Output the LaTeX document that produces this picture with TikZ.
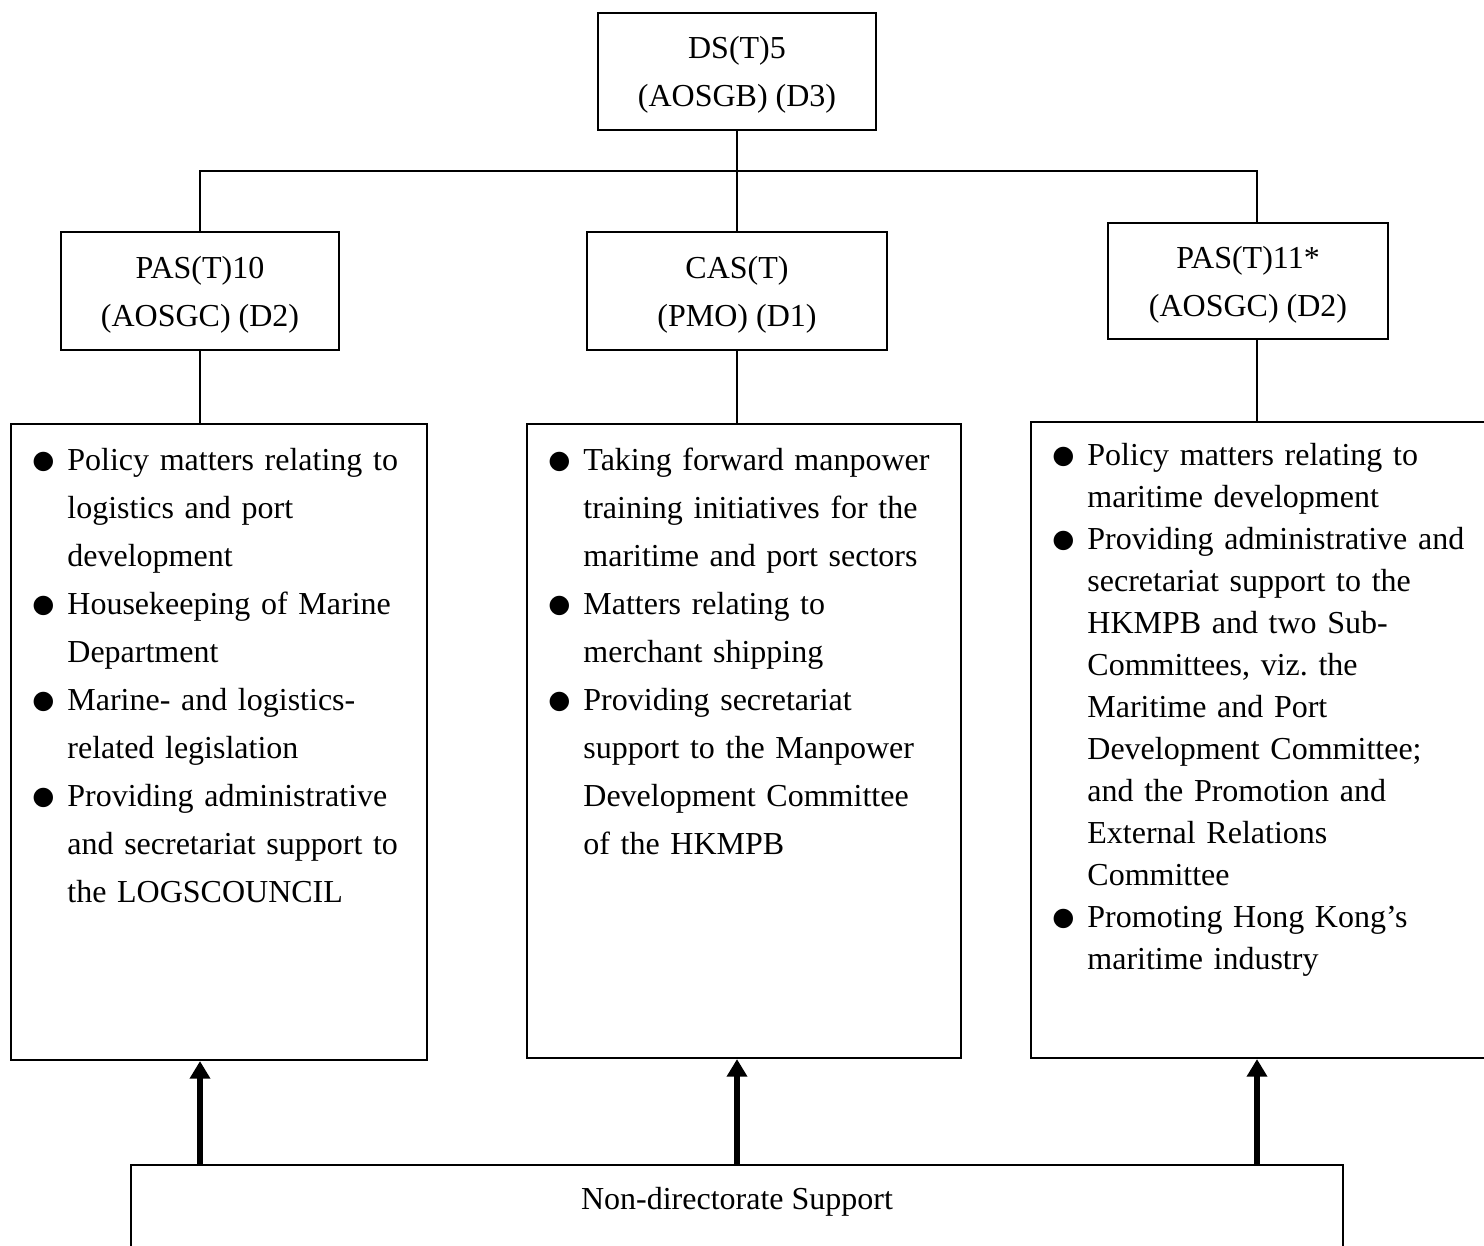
\documentclass[tikz,border=0pt]{standalone}
\usepackage{fontspec}
\setmainfont{Liberation Serif}
\newfontfamily\dotfont{DejaVu Sans}
\usepackage{enumitem}
\usetikzlibrary{arrows.meta,calc}
\setlist[itemize]{label={\raisebox{0.6pt}{\fontsize{9.5}{9.5}\dotfont ●}}, nosep,
  labelindent=0pt, labelwidth=9pt, labelsep=4.1pt, leftmargin=13.1pt, align=left,
  before=\raggedright}

\begin{document}
\begin{tikzpicture}[x=0.375pt, y=-0.375pt,
    font=\fontsize{12}{18}\selectfont,
    post/.style={draw, line width=0.8pt, align=center, inner sep=0pt, text depth=-4pt},
    duties/.style={draw, line width=0.8pt, inner sep=0pt},
    dutytext/.style={inner sep=0pt, text width=175pt, anchor=north west},
    link/.style={line width=0.6pt},
    feed/.style={line width=2.4pt, -{Triangle[length=6.6pt,width=7.4pt]}},
]
\useasboundingbox (0,0) rectangle (1484,1246);

\coordinate (colA) at (200,0);
\coordinate (colB) at (737,0);
\coordinate (colC) at (1257,0);

\node[post, minimum width=104.25pt, minimum height=43.9pt] (ds5) at (737,71.5) {DS(T)5\\(AOSGB) (D3)};
\node[post, minimum width=104.25pt, minimum height=44.25pt] (pas10) at (200,291) {PAS(T)10\\(AOSGC) (D2)};
\node[post, minimum width=112.5pt, minimum height=44.25pt] (cas) at (737,291) {CAS(T)\\(PMO) (D1)};
\node[post, minimum width=105pt, minimum height=43.5pt] (pas11) at (1248,281) {PAS(T)11*\\(AOSGC) (D2)};

\node[duties, minimum width=156pt, minimum height=238.5pt] (logduty) at (219,742) {};
\node[duties, minimum width=162.75pt, minimum height=237.75pt] (shipduty) at (744,741) {};
\node[duties, minimum width=172.5pt, minimum height=238.5pt] (marduty) at (1261,740) {};

\node[dutytext] (logtext) at ($(logduty.north west)+(22,-1)$) {%
\begin{itemize}
\item Policy matters relating to\newline logistics and port\newline development
\item Housekeeping of Marine\newline Department
\item Marine- and logistics-\newline related legislation
\item Providing administrative\newline and secretariat support to\newline the LOGSCOUNCIL
\end{itemize}};

\node[dutytext] (shiptext) at ($(shipduty.north west)+(22,-1)$) {%
\begin{itemize}
\item Taking forward manpower\newline training initiatives for the\newline maritime and port sectors
\item Matters relating to\newline merchant shipping
\item Providing secretariat\newline support to the Manpower\newline Development Committee\newline of the HKMPB
\end{itemize}};

\node[dutytext, font=\fontsize{12}{15.75}\selectfont] (martext) at ($(marduty.north west)+(22,2)$) {%
\begin{itemize}
\item Policy matters relating to\newline maritime development
\item Providing administrative and\newline secretariat support to the\newline HKMPB and two Sub-\newline Committees, viz.\ the\newline Maritime and Port\newline Development Committee;\newline and the Promotion and\newline External Relations\newline Committee
\item Promoting Hong Kong’s\newline maritime industry
\end{itemize}};

\node[duties, minimum width=454.5pt, minimum height=47.25pt, anchor=north] (support) at (737,1164) {};
\node (supporttext) at (737,1202) {Non-directorate Support};

\draw[link] (ds5.south) -- (cas.north);
\draw[link] (pas10.north -| colA) -- ++(0,-60) -| (pas11.north -| colC);
\draw[link] (pas10.south) -- (logduty.north -| pas10.south);
\draw[link] (cas.south) -- (shipduty.north -| cas.south);
\draw[link] (pas11.south -| colC) -- (marduty.north -| colC);

\foreach \duty/\col in {logduty/colA, shipduty/colB, marduty/colC}
  \draw[feed] (support.north -| \col) -- (\duty.south -| \col);
\end{tikzpicture}
\end{document}
